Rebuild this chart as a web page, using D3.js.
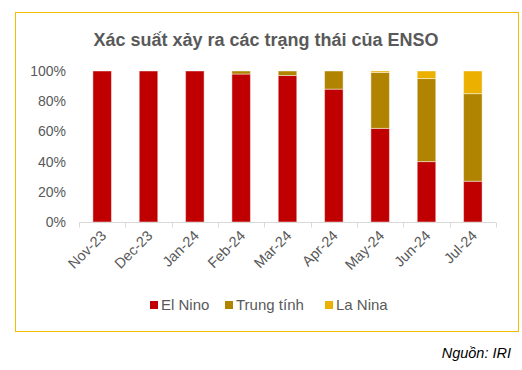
<!DOCTYPE html>
<html>
<head>
<meta charset="utf-8">
<script src="https://cdn.jsdelivr.net/npm/d3@7"></script>
<style>
  body { margin: 0; background: #fff; }
  svg { font-family: "Liberation Sans", Arial, sans-serif; }
</style>
</head>
<body>
<svg id="chart" width="522" height="370"></svg>
<script>
// data
var months = ["Nov-23", "Dec-23", "Jan-24", "Feb-24", "Mar-24", "Apr-24", "May-24", "Jun-24", "Jul-24"];
var elNino = [100, 100, 100, 98, 97, 88, 62, 40, 27];
var trungTinh = [0, 0, 0, 2, 3, 12, 37, 55, 58];
var laNina = [0, 0, 0, 0, 0, 0, 1, 5, 15];
var seriesNames = ["El Nino", "Trung tính", "La Nina"];
var yTicks = [0, 20, 40, 60, 80, 100];

var colors = ["#C00000", "#B08400", "#EBB000"];
var textColor = "#595959";

var svg = d3.select("#chart");

// frame
svg.append("rect")
    .attr("x", 15.5).attr("y", 12.5)
    .attr("width", 503).attr("height", 319)
    .attr("fill", "none")
    .attr("stroke", "#F2BE00")
    .attr("stroke-width", 1);

svg.append("text")
    .attr("x", 266).attr("y", 46)
    .attr("text-anchor", "middle")
    .attr("font-size", 18)
    .attr("font-weight", "bold")
    .attr("fill", textColor)
    .text("Xác suất xảy ra các trạng thái của ENSO");

var rows = months.map(function (m, i) {
    return { month: m, "El Nino": elNino[i], "Trung tính": trungTinh[i], "La Nina": laNina[i] };
});

var x = d3.scaleBand().domain(months).range([79, 496]).paddingInner(0.6).paddingOuter(0.3);
var y = d3.scaleLinear().domain([0, 100]).range([222, 71]);

var stack = d3.stack().keys(seriesNames)(rows);

// y axis labels
svg.append("g").selectAll("text")
    .data(yTicks)
    .enter().append("text")
    .attr("x", 66)
    .attr("y", function (d) { return y(d); })
    .attr("dy", "0.35em")
    .attr("text-anchor", "end")
    .attr("font-size", 14)
    .attr("fill", textColor)
    .text(function (d) { return d + "%"; });

// bars
svg.append("g").selectAll("g")
    .data(stack)
    .enter().append("g")
    .attr("fill", function (d, i) { return colors[i]; })
    .selectAll("rect")
    .data(function (d) { return d; })
    .enter().append("rect")
    .filter(function (d) { return d[1] - d[0] > 0; })
    .attr("x", function (d) { return x(d.data.month); })
    .attr("y", function (d) { return y(d[1]); })
    .attr("width", x.bandwidth())
    .attr("height", function (d) { return y(d[0]) - y(d[1]); })
    .attr("stroke", "rgba(255,255,255,0.45)")
    .attr("stroke-width", 1);

// x axis
var gx = svg.append("g").attr("transform", "translate(0,222.5)");
gx.append("line")
    .attr("x1", 79).attr("x2", 496)
    .attr("stroke", "#D9D9D9");
gx.selectAll(".tk")
    .data(d3.range(months.length + 1))
    .enter().append("line")
    .attr("x1", function (i) { return Math.round(79 + i * x.step()) + 0.5; })
    .attr("x2", function (i) { return Math.round(79 + i * x.step()) + 0.5; })
    .attr("y1", 0).attr("y2", 5)
    .attr("stroke", "#D9D9D9");

gx.selectAll(".lbl")
    .data(months)
    .enter().append("text")
    .attr("transform", function (d) {
        return "translate(" + (x(d) + x.bandwidth() / 2 + 5) + ",14) rotate(-45)";
    })
    .attr("text-anchor", "end")
    .attr("font-size", 14.5)
    .attr("fill", textColor)
    .text(function (d) { return d; });

// legend
var legendX = [150, 225, 325];
var legend = svg.append("g").selectAll("g")
    .data(seriesNames)
    .enter().append("g")
    .attr("transform", function (d, i) { return "translate(" + legendX[i] + ",301)"; });
legend.append("rect")
    .attr("width", 8).attr("height", 8)
    .attr("fill", function (d, i) { return colors[i]; });
legend.append("text")
    .attr("x", 11).attr("y", 4)
    .attr("dy", "0.35em")
    .attr("font-size", 15)
    .attr("fill", textColor)
    .text(function (d) { return d; });

svg.append("text")
    .attr("x", 511).attr("y", 358)
    .attr("text-anchor", "end")
    .attr("font-size", 14.5)
    .attr("font-style", "italic")
    .attr("fill", "#000")
    .text("Nguồn: IRI");
</script>
</body>
</html>
